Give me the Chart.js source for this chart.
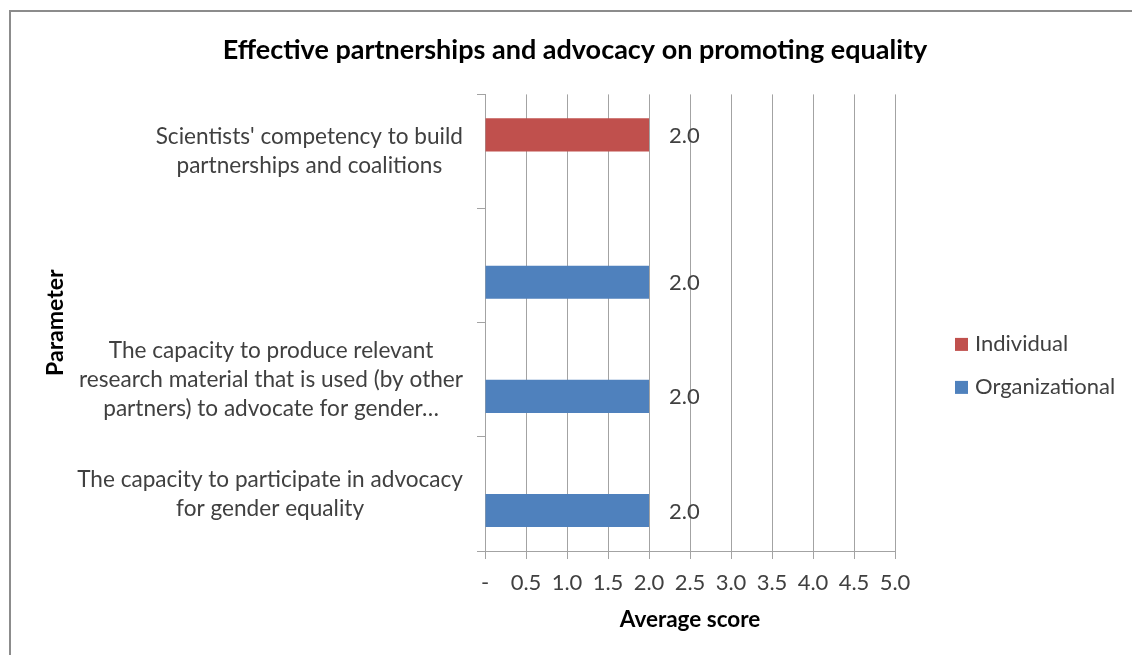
<!DOCTYPE html>
<html>
<head>
<meta charset="utf-8">
<title>Effective partnerships and advocacy on promoting equality</title>
<script src="https://cdn.jsdelivr.net/npm/chart.js@4/dist/chart.umd.min.js"></script>
<style>
  html, body { margin: 0; padding: 0; background: #fff; }
  #wrap { width: 1132px; height: 655px; }
</style>
</head>
<body>
<div id="wrap"><canvas id="scoreChart" width="1132" height="655"></canvas></div>
<script>
// Category labels, top to bottom (already wrapped into lines)
const parameters = [
  ["Scientists' competency to build", "partnerships and coalitions"],
  "",
  ["The capacity to produce relevant", "research material that is used (by other", "partners) to advocate for gender\u2026"],
  ["The capacity to participate in advocacy", "for gender equality"],
];

// Average scores per series
const individualScores = [2.0, null, null, null];
const organizationalScores = [null, 2.0, 2.0, 2.0];

// Value axis tick labels, 0 to 5 in steps of 0.5
const scoreTickLabels = ["-", "0.5", "1.0", "1.5", "2.0", "2.5", "3.0", "3.5", "4.0", "4.5", "5.0"];

const gridColor = "#a3a3a3";
const textColor = "#404040";
const fontFamily = "Lato, 'Liberation Sans', sans-serif";

Chart.defaults.font.family = fontFamily;
Chart.defaults.color = textColor;

// White background and the frame along the top and left edges
const framePlugin = {
  id: "frame",
  beforeDraw(chart) {
    const ctx = chart.ctx;
    ctx.save();
    ctx.fillStyle = "#ffffff";
    ctx.fillRect(0, 0, chart.width, chart.height);
    ctx.strokeStyle = "#8c8c8c";
    ctx.lineWidth = 2;
    ctx.beginPath();
    ctx.moveTo(10, chart.height);
    ctx.lineTo(10, 11);
    ctx.lineTo(chart.width, 11);
    ctx.stroke();
    ctx.restore();
  },
};

// Category labels: each block right-aligned against the axis,
// its lines centred within the block
const categoryLabelPlugin = {
  id: "categoryLabels",
  afterDraw(chart) {
    const scale = chart.scales.y;
    const ctx = chart.ctx;
    const lineHeight = 29;
    const blockRight = scale.right - 8 - 14;
    ctx.save();
    ctx.font = "22.6px " + fontFamily;
    ctx.fillStyle = textColor;
    ctx.textAlign = "center";
    ctx.textBaseline = "middle";
    chart.data.labels.forEach((label, i) => {
      const lines = Array.isArray(label) ? label : [label];
      const blockWidth = Math.max(...lines.map((l) => ctx.measureText(l).width));
      const cx = blockRight - blockWidth / 2;
      const cy = scale.getPixelForTick(i);
      const y0 = cy - ((lines.length - 1) * lineHeight) / 2;
      lines.forEach((line, k) => {
        ctx.fillText(line, cx, y0 + k * lineHeight);
      });
    });
    ctx.restore();
  },
};

// Value labels to the right of each bar
const valueLabelPlugin = {
  id: "valueLabels",
  afterDatasetsDraw(chart) {
    const ctx = chart.ctx;
    ctx.save();
    ctx.font = "22px " + fontFamily;
    ctx.fillStyle = textColor;
    ctx.textAlign = "left";
    ctx.textBaseline = "middle";
    chart.data.datasets.forEach((ds, i) => {
      const meta = chart.getDatasetMeta(i);
      meta.data.forEach((bar, j) => {
        const v = ds.data[j];
        if (v === null || v === undefined) return;
        ctx.fillText(v.toFixed(1), bar.x + 20, bar.y + 1);
      });
    });
    ctx.restore();
  },
};

// Legend drawn in the space reserved on the right
const sideLegendPlugin = {
  id: "sideLegend",
  afterDraw(chart) {
    const ctx = chart.ctx;
    const area = chart.chartArea;
    const x = area.right + 60;
    let y = area.top + 250;
    ctx.save();
    ctx.font = "22px " + fontFamily;
    ctx.textAlign = "left";
    ctx.textBaseline = "middle";
    chart.data.datasets.forEach((ds) => {
      ctx.fillStyle = ds.backgroundColor;
      ctx.fillRect(x, y - 6.5, 13, 13);
      ctx.fillStyle = textColor;
      ctx.fillText(ds.label, x + 20, y);
      y += 43;
    });
    ctx.restore();
  },
};

const ctx = document.getElementById("scoreChart").getContext("2d");

const scoreChart = new Chart(ctx, {
  type: "bar",
  data: {
    labels: parameters,
    datasets: [
      {
        label: "Individual",
        data: individualScores,
        backgroundColor: "#c0504d",
        categoryPercentage: 0.58,
        barPercentage: 1.0,
      },
      {
        label: "Organizational",
        data: organizationalScores,
        backgroundColor: "#4f81bd",
        categoryPercentage: 0.58,
        barPercentage: 1.0,
      },
    ],
  },
  options: {
    indexAxis: "y",
    responsive: false,
    animation: false,
    devicePixelRatio: 1,
    layout: {
      padding: { left: 20, right: 2, top: 12, bottom: 10 },
    },
    plugins: {
      legend: { display: false },
      tooltip: { enabled: false },
      title: {
        display: true,
        text: "Effective partnerships and advocacy on promoting equality",
        color: "#000",
        font: { size: 27, weight: "bold" },
        padding: { top: 22, bottom: 28 },
      },
    },
    scales: {
      x: {
        type: "linear",
        min: 0,
        max: 5,
        ticks: {
          stepSize: 0.5,
          autoSkip: false,
          maxRotation: 0,
          padding: 11,
          color: textColor,
          font: { size: 22 },
          callback: (value, index) => scoreTickLabels[index],
        },
        grid: {
          color: gridColor,
          lineWidth: 1,
          drawTicks: true,
          tickLength: 8,
        },
        border: { display: true, color: gridColor },
        title: {
          display: true,
          text: "Average score",
          color: "#000",
          font: { size: 22.5, weight: "bold" },
          padding: { top: 0, bottom: 12 },
        },
        afterFit(scale) {
          scale.height = 94;
        },
      },
      y: {
        type: "category",
        ticks: { display: false, autoSkip: false },
        grid: {
          offset: true,
          drawOnChartArea: false,
          drawTicks: true,
          tickLength: 8,
          color: gridColor,
        },
        border: { display: true, color: gridColor },
        title: {
          display: true,
          text: "Parameter",
          color: "#000",
          font: { size: 23, weight: "bold" },
          padding: { top: 22, bottom: 0 },
        },
        afterFit(scale) {
          scale.width = 465;
        },
      },
      // empty axis that keeps room on the right for the legend
      legendSpace: {
        type: "linear",
        position: "right",
        display: true,
        grid: { display: false, drawTicks: false },
        ticks: { display: false },
        border: { display: false },
        afterFit(scale) {
          scale.width = 235;
        },
      },
    },
  },
  plugins: [framePlugin, categoryLabelPlugin, valueLabelPlugin, sideLegendPlugin],
});
</script>
</body>
</html>
